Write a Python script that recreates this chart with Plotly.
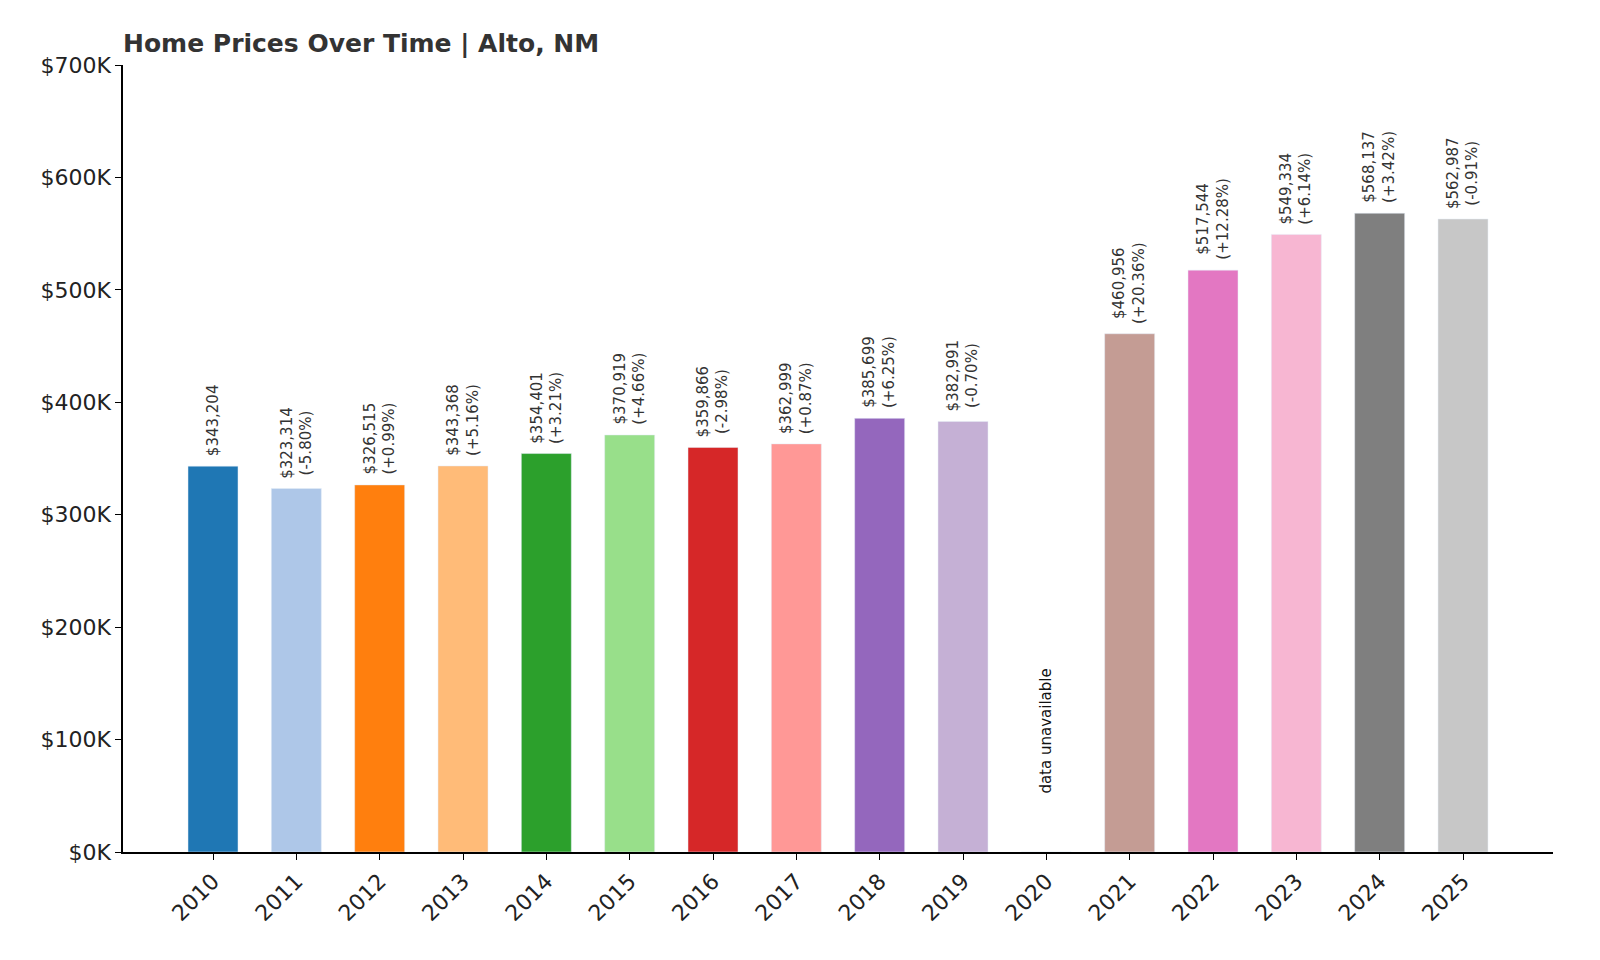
import plotly.graph_objects as go

# dados
anos = [2010, 2011, 2012, 2013, 2014, 2015, 2016, 2017, 2018, 2019, 2020,
        2021, 2022, 2023, 2024, 2025]
precos = [343204, 323314, 326515, 343368, 354401, 370919, 359866, 362999,
          385699, 382991, None, 460956, 517544, 549334, 568137, 562987]
variacao = [None, "-5.80%", "+0.99%", "+5.16%", "+3.21%", "+4.66%", "-2.98%",
            "+0.87%", "+6.25%", "-0.70%", None, "+20.36%", "+12.28%",
            "+6.14%", "+3.42%", "-0.91%"]
cores = ["#1f77b4", "#aec7e8", "#ff7f0e", "#ffbb78", "#2ca02c", "#98df8a",
         "#d62728", "#ff9896", "#9467bd", "#c5b0d5", "#ffffff", "#c49c94",
         "#e377c2", "#f7b6d2", "#7f7f7f", "#c7c7c7"]

fig = go.Figure(go.Bar(
    x=anos,
    y=[p if p is not None else 0 for p in precos],
    marker_color=cores,
    width=0.6,
    hoverinfo="x+y",
))

# rótulos dos valores
for ano, p, v in zip(anos, precos, variacao):
    if p is None:
        fig.add_annotation(x=ano, y=50000, text="data unavailable", textangle=-90,
                           showarrow=False, yanchor="bottom",
                           font=dict(size=15, color="#111"))
        continue
    txt = f"${p:,}" if v is None else f"${p:,}<br>({v})"
    fig.add_annotation(x=ano, y=p, text=txt, textangle=-90, showarrow=False,
                       yanchor="bottom", yshift=8,
                       font=dict(size=15, color="#333"))

fig.update_xaxes(
    range=[2010 - 1.08, 2025 + 1.08],
    tickvals=anos, ticktext=[str(a) for a in anos], tickangle=-45,
    ticks="outside", ticklen=6, tickcolor="#000",
    showline=True, linecolor="#000", linewidth=1.5,
    showgrid=False, tickfont=dict(size=22, color="#222"),
)
fig.update_yaxes(
    range=[0, 700000], tickvals=list(range(0, 700001, 100000)),
    ticktext=[f"${v // 1000}K" for v in range(0, 700001, 100000)],
    ticks="outside", ticklen=6, tickcolor="#000",
    showline=True, linecolor="#000", linewidth=1.5,
    showgrid=False, zeroline=False, tickfont=dict(size=22, color="#222"),
)

fig.update_layout(
    title=dict(text="<b>Home Prices Over Time | Alto, NM</b>", x=115 / 1600,
               xanchor="left", y=1 - 35 / 960, yanchor="middle",
               font=dict(size=25, color="#333")),
    width=1600, height=960,
    margin=dict(l=115, r=55, t=57, b=116),
    plot_bgcolor="white", paper_bgcolor="white",
    font=dict(family="DejaVu Sans"),
    showlegend=False,
)

fig.write_html("out.html")
